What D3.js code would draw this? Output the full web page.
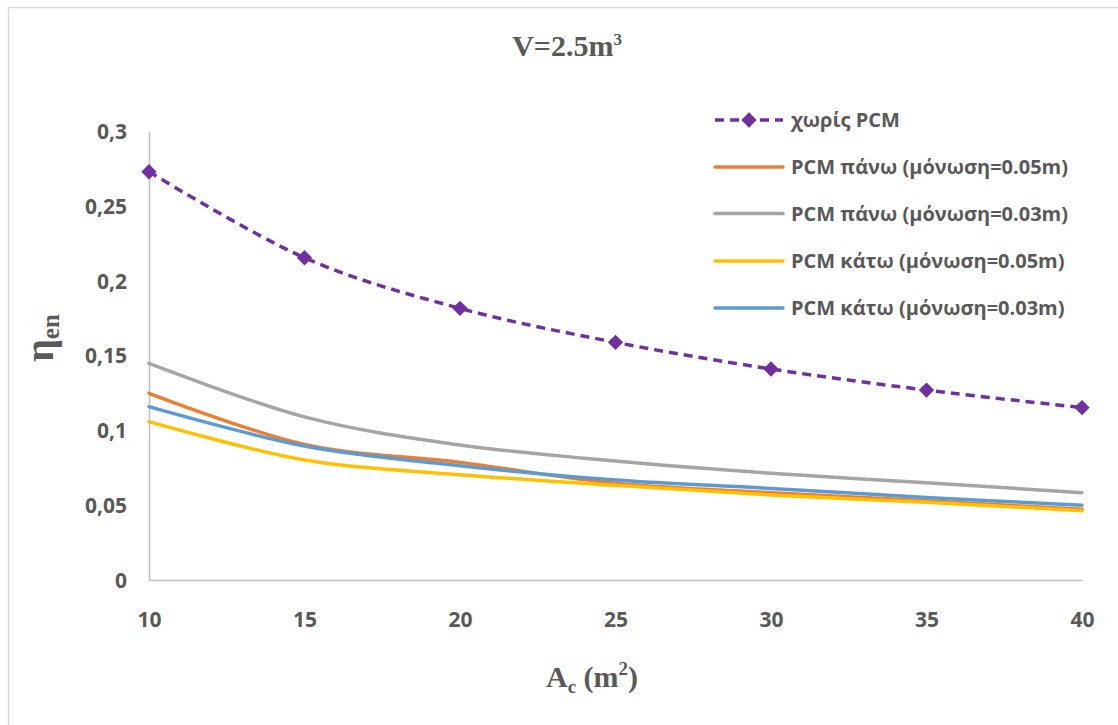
<!DOCTYPE html>
<html>
<head>
<meta charset="utf-8">
<script src="https://cdn.jsdelivr.net/npm/d3@7"></script>
<style>
  html, body { margin: 0; padding: 0; background: #fff; }
  svg { display: block; }
</style>
</head>
<body>
<svg id="chart" width="1118" height="725"></svg>
<script>
// Collector area A_c (m²)
const areas = [10, 15, 20, 25, 30, 35, 40];

// Energy efficiency η_en for each configuration
const noPCM      = [0.2728, 0.2153, 0.1815, 0.1588, 0.1410, 0.1269, 0.1152];
const topIns005  = [0.1247, 0.0906, 0.0786, 0.0646, 0.0583, 0.0530, 0.0472];
const topIns003  = [0.1447, 0.1090, 0.0902, 0.0795, 0.0713, 0.0650, 0.0583];
const botIns005  = [0.1058, 0.0802, 0.0704, 0.0633, 0.0568, 0.0519, 0.0463];
const botIns003  = [0.1158, 0.0895, 0.0764, 0.0668, 0.0612, 0.0552, 0.0499];

const seriesNames = [
  "χωρίς PCM",
  "PCM πάνω (μόνωση=0.05m)",
  "PCM πάνω (μόνωση=0.03m)",
  "PCM κάτω (μόνωση=0.05m)",
  "PCM κάτω (μόνωση=0.03m)"
];
const seriesColors = ["#7030A0", "#ED7D31", "#A5A5A5", "#FFC000", "#5B9BD5"];
const seriesValues = [noPCM, topIns005, topIns003, botIns005, botIns003];

const xTicks = [10, 15, 20, 25, 30, 35, 40];
const yTicks = [0, 0.05, 0.1, 0.15, 0.2, 0.25, 0.3];
const yTickLabels = ["0", "0,05", "0,1", "0,15", "0,2", "0,25", "0,3"];

const svg = d3.select("#chart");
const textColor = "#595959";
const axisColor = "#BFBFBF";
const tickFont = "'Open Sans', sans-serif";
const serif = "'Liberation Serif', 'Times New Roman', serif";

// Outer chart frame
svg.append("rect")
  .attr("x", 8.5).attr("y", 7.5)
  .attr("width", 1200).attr("height", 800)
  .attr("fill", "#fff")
  .attr("stroke", "#D9D9D9").attr("stroke-width", 1.5);

const x = d3.scaleLinear().domain([10, 40]).range([149, 1082]);
const y = d3.scaleLinear().domain([0, 0.3]).range([580, 131]);

// Axes (no tick marks, labels only)
const xAxis = d3.axisBottom(x).tickValues(xTicks).tickSize(0).tickSizeOuter(0).tickPadding(0)
  .tickFormat(d3.format("d"));
const gx = svg.append("g").attr("transform", `translate(0,${y(0)})`).call(xAxis);
gx.select(".domain").attr("stroke", axisColor).attr("stroke-width", 1.5);
gx.selectAll("text")
  .attr("y", 47).attr("dy", 0)
  .attr("fill", textColor)
  .style("font-family", tickFont).style("font-weight", 700).style("font-size", "21px");

const yAxis = d3.axisLeft(y).tickValues(yTicks).tickSize(0).tickSizeOuter(0).tickPadding(0)
  .tickFormat((d, i) => yTickLabels[i]);
const gy = svg.append("g").attr("transform", `translate(${x(10)},0)`).call(yAxis);
gy.select(".domain").attr("stroke", axisColor).attr("stroke-width", 1.5);
gy.selectAll("text")
  .attr("x", -22).attr("dy", "0.35em")
  .attr("fill", textColor)
  .style("font-family", tickFont).style("font-weight", 700).style("font-size", "21px");

// Smoothed series lines
const line = d3.line()
  .x((d, i) => x(areas[i]))
  .y(d => y(d))
  .curve(d3.curveCatmullRom.alpha(0));

const plot = svg.append("g");
seriesValues.forEach((vals, k) => {
  const p = plot.append("path")
    .datum(vals)
    .attr("d", line)
    .attr("fill", "none")
    .attr("stroke", seriesColors[k])
    .attr("stroke-width", 3.5)
    .attr("stroke-linecap", k === 0 ? "butt" : "round");
  if (k === 0) p.attr("stroke-dasharray", "9,6");
});

// Diamond markers on the reference series
const diamond = d3.symbol().type(d3.symbolDiamond2).size(150);
plot.selectAll(".marker")
  .data(noPCM)
  .enter().append("path")
  .attr("class", "marker")
  .attr("d", diamond)
  .attr("transform", (d, i) => `translate(${x(areas[i])},${y(d)})`)
  .attr("fill", seriesColors[0]);

// Title
const title = svg.append("text")
  .attr("x", 567).attr("y", 56)
  .attr("text-anchor", "middle")
  .attr("fill", textColor)
  .style("font-family", serif).style("font-weight", 700).style("font-size", "30px");
title.append("tspan").text("V=2.5m");
title.append("tspan").attr("dy", -11).style("font-size", "17px").text("3");

// Y axis title η_en
const yTitle = svg.append("text")
  .attr("transform", "translate(53,338) rotate(-90)")
  .attr("text-anchor", "middle")
  .attr("fill", textColor)
  .style("font-family", serif).style("font-weight", 700).style("font-size", "40px");
yTitle.append("tspan").text("η");
yTitle.append("tspan").attr("dy", 6).style("font-size", "25px").text("en");

// X axis title A_c (m²)
const xTitle = svg.append("text")
  .attr("x", 592).attr("y", 687)
  .attr("text-anchor", "middle")
  .attr("fill", textColor)
  .style("font-family", serif).style("font-weight", 700).style("font-size", "30px");
xTitle.append("tspan").text("A");
xTitle.append("tspan").attr("dy", 6).style("font-size", "19px").text("c");
xTitle.append("tspan").attr("dy", -6).text(" (m");
xTitle.append("tspan").attr("dy", -12).style("font-size", "19px").text("2");
xTitle.append("tspan").attr("dy", 12).text(")");

// Legend
const legendRows = [120, 167, 213.5, 261, 308];
const legend = svg.append("g");
seriesNames.forEach((name, k) => {
  const ly = legendRows[k];
  const row = legend.append("g");
  const l = row.append("line")
    .attr("x1", 715).attr("x2", 783)
    .attr("y1", ly).attr("y2", ly)
    .attr("stroke", seriesColors[k]).attr("stroke-width", 3.5)
    .attr("stroke-linecap", k === 0 ? "butt" : "round");
  if (k === 0) {
    l.attr("stroke-dasharray", "9,6");
    row.append("path").attr("d", diamond)
      .attr("transform", `translate(749,${ly})`)
      .attr("fill", seriesColors[0]);
  }
  row.append("text")
    .attr("x", 791).attr("y", ly).attr("dy", "0.35em")
    .attr("fill", textColor)
    .style("font-family", tickFont).style("font-weight", 700).style("font-size", "20px")
    .text(name);
});
</script>
</body>
</html>
